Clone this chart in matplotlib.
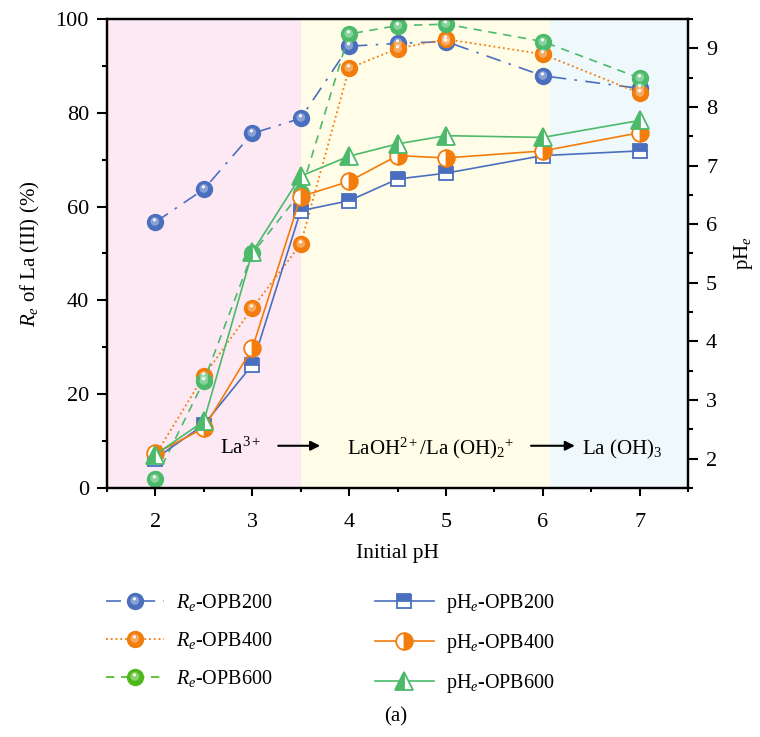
import numpy as np
import matplotlib
matplotlib.use("Agg")
import matplotlib.pyplot as plt
from matplotlib.path import Path
from matplotlib.lines import Line2D
from matplotlib.ticker import MultipleLocator
from matplotlib.legend_handler import HandlerTuple

plt.rcParams['font.family'] = ['Liberation Serif', 'DejaVu Serif']
plt.rcParams['mathtext.fontset'] = 'custom'
plt.rcParams['mathtext.rm'] = 'Liberation Serif'
plt.rcParams['mathtext.it'] = 'Liberation Serif:italic'

# data
init_ph = [2, 2.5, 3, 3.5, 4, 4.5, 5, 6, 7]
re_200 = [56.7, 63.7, 75.6, 78.8, 94.2, 94.8, 95.2, 87.9, 85.2]
re_400 = [7.0, 23.9, 38.3, 52.0, 89.5, 93.7, 95.7, 92.5, 84.2]
re_600 = [1.9, 22.8, 50.0, 63.0, 96.8, 98.6, 98.9, 95.2, 87.4]
ph_200 = [2.0, 2.58, 3.6, 6.23, 6.40, 6.77, 6.87, 7.17, 7.25]
ph_400 = [2.09, 2.52, 3.88, 6.47, 6.73, 7.17, 7.13, 7.25, 7.56]
ph_600 = [2.07, 2.64, 5.52, 6.82, 7.16, 7.37, 7.51, 7.48, 7.77]

blue = '#4a6fbe'
orange = '#f27c0c'
green = '#4cba6a'
green_leg = '#4cb81c'


def shine(r, cx, cy):
    # offset circle used as a highlight marker on the balls
    c = Path.circle((cx, cy), r)
    box = Path([(1, 1), (-1, -1)], [Path.MOVETO, Path.MOVETO])
    return Path.make_compound_path(c, box)


glow = shine(0.5, -0.08, 0.12)
spot = shine(0.18, -0.12, 0.3)

fig = plt.figure(figsize=(7.6, 7.37), dpi=100)
ax = fig.add_axes([0.1408, 0.3379, 0.7645, 0.6363])
ax2 = ax.twinx()

ax.axvspan(1.5, 3.5, color='#fce9f4', lw=0, zorder=0)
ax.axvspan(3.5, 6.07, color='#fffde8', lw=0, zorder=0)
ax.axvspan(6.07, 7.5, color='#eff8fb', lw=0, zorder=0)

ms = 12.5
ax.plot(init_ph, re_200, color=blue, lw=1.2, dashes=(9, 5, 1.5, 5), marker='o',
        ms=ms, mfc=blue, mec=blue, mew=0)
ax.plot(init_ph, re_400, color=orange, lw=1.3, ls=':', marker='o',
        ms=ms, mfc=orange, mec=orange, mew=0)
ax.plot(init_ph, re_600, color=green, lw=1.2, dashes=(5, 4), marker='o',
        ms=ms, mfc=green, mec=green, mew=0)
for ys in (re_200, re_400, re_600):
    ax.plot(init_ph, ys, ls='none', marker=glow, ms=ms, mfc='white', mew=0, alpha=0.35)
    ax.plot(init_ph, ys, ls='none', marker=spot, ms=ms, mfc='white', mew=0, alpha=0.95)

ax2.plot(init_ph, ph_200, color=blue, lw=1.2, marker='s', ms=10, fillstyle='top',
         mfc=blue, mfcalt='white', mec=blue, mew=1.3)
ax2.plot(init_ph, ph_400, color=orange, lw=1.2, marker='o', ms=12, fillstyle='right',
         mfc=orange, mfcalt='white', mec=orange, mew=1.3)
ax2.plot(init_ph, ph_600, color=green, lw=1.2, marker='^', ms=13, fillstyle='left',
         mfc=green, mfcalt='white', mec=green, mew=1.3)

ax.set_xlim(1.5, 7.5)
ax.set_ylim(0, 100)
ax2.set_ylim(1.5, 9.5)
ax.xaxis.set_major_locator(MultipleLocator(1))
ax.xaxis.set_minor_locator(MultipleLocator(0.5))
ax.yaxis.set_major_locator(MultipleLocator(20))
ax.yaxis.set_minor_locator(MultipleLocator(10))
ax2.yaxis.set_major_locator(MultipleLocator(1))
ax2.yaxis.set_minor_locator(MultipleLocator(0.5))

for a in (ax, ax2):
    for s in a.spines.values():
        s.set_linewidth(1.6)
    a.tick_params(which='major', direction='out', length=7, width=1.5, labelsize=16, pad=6)
    a.tick_params(which='minor', direction='out', length=3.5, width=1.5)
ax.tick_params(axis='x', which='major', length=6, pad=12)
ax.tick_params(axis='x', which='minor', length=3)

ax.set_xlabel('Initial pH', fontsize=15.5, labelpad=9)
ax.set_ylabel(r'$R_e$ of La (III) (%)', fontsize=15, labelpad=10)
ax2.set_ylabel(r'pH$_e$', fontsize=15, labelpad=11)

# species annotations
arrow = dict(arrowstyle='-|>', color='black', lw=1.5, mutation_scale=14)
ax.text(2.88, 7.2, r'La$^{3+}$', fontsize=15, ha='center', va='baseline')
ax.annotate('', xy=(3.73, 9.0), xytext=(3.24, 9.0), arrowprops=arrow)
ax.text(4.84, 7.2, r'LaOH$^{2+}$/La (OH)$_2$$^{+}$', fontsize=15, ha='center', va='baseline')
ax.annotate('', xy=(6.36, 9.0), xytext=(5.85, 9.0), arrowprops=arrow)
ax.text(6.4, 7.2, r'La (OH)$_3$', fontsize=15, ha='left', va='baseline')


# legend
def ball(c):
    return (Line2D([], [], ls='none', marker='o', ms=ms, mew=0, mfc=c),
            Line2D([], [], ls='none', marker=glow, ms=ms, mfc='white', mew=0, alpha=0.35),
            Line2D([], [], ls='none', marker=spot, ms=ms, mfc='white', mew=0, alpha=0.95))


h1 = Line2D([], [], color=blue, lw=1.2, dashes=(9, 5, 1.5, 5))
h2 = Line2D([], [], color=orange, lw=1.3, ls=':')
h3 = Line2D([], [], color=green_leg, lw=1.2, dashes=(5, 4))
b1, b2, b3 = ball(blue), ball(orange), ball(green_leg)
h4 = Line2D([], [], color=blue, lw=1.2, marker='s', ms=10, fillstyle='top',
            mfc=blue, mfcalt='white', mec=blue, mew=1.3)
h5 = Line2D([], [], color=orange, lw=1.2, marker='o', ms=12, fillstyle='right',
            mfc=orange, mfcalt='white', mec=orange, mew=1.3)
h6 = Line2D([], [], color=green, lw=1.2, marker='^', ms=13, fillstyle='left',
            mfc=green, mfcalt='white', mec=green, mew=1.3)

handles = [(h1,) + b1, (h2,) + b2, (h3,) + b3, h4, h5, h6]
labels = [r'$R_e$-OPB200', r'$R_e$-OPB400', r'$R_e$-OPB600',
          r'pH$_e$-OPB200', r'pH$_e$-OPB400', r'pH$_e$-OPB600']
fig.legend(handles, labels, loc='upper left', bbox_to_anchor=(0.115, 0.221),
           ncol=2, frameon=False, fontsize=14.5, handlelength=2.9, handletextpad=0.6,
           columnspacing=5.1, labelspacing=0.85, numpoints=1,
           handler_map={tuple: HandlerTuple(ndivide=1, pad=0)})

fig.text(0.52, 0.027, '(a)', fontsize=15, ha='center', va='center')

fig.savefig('out.png', dpi=100)
